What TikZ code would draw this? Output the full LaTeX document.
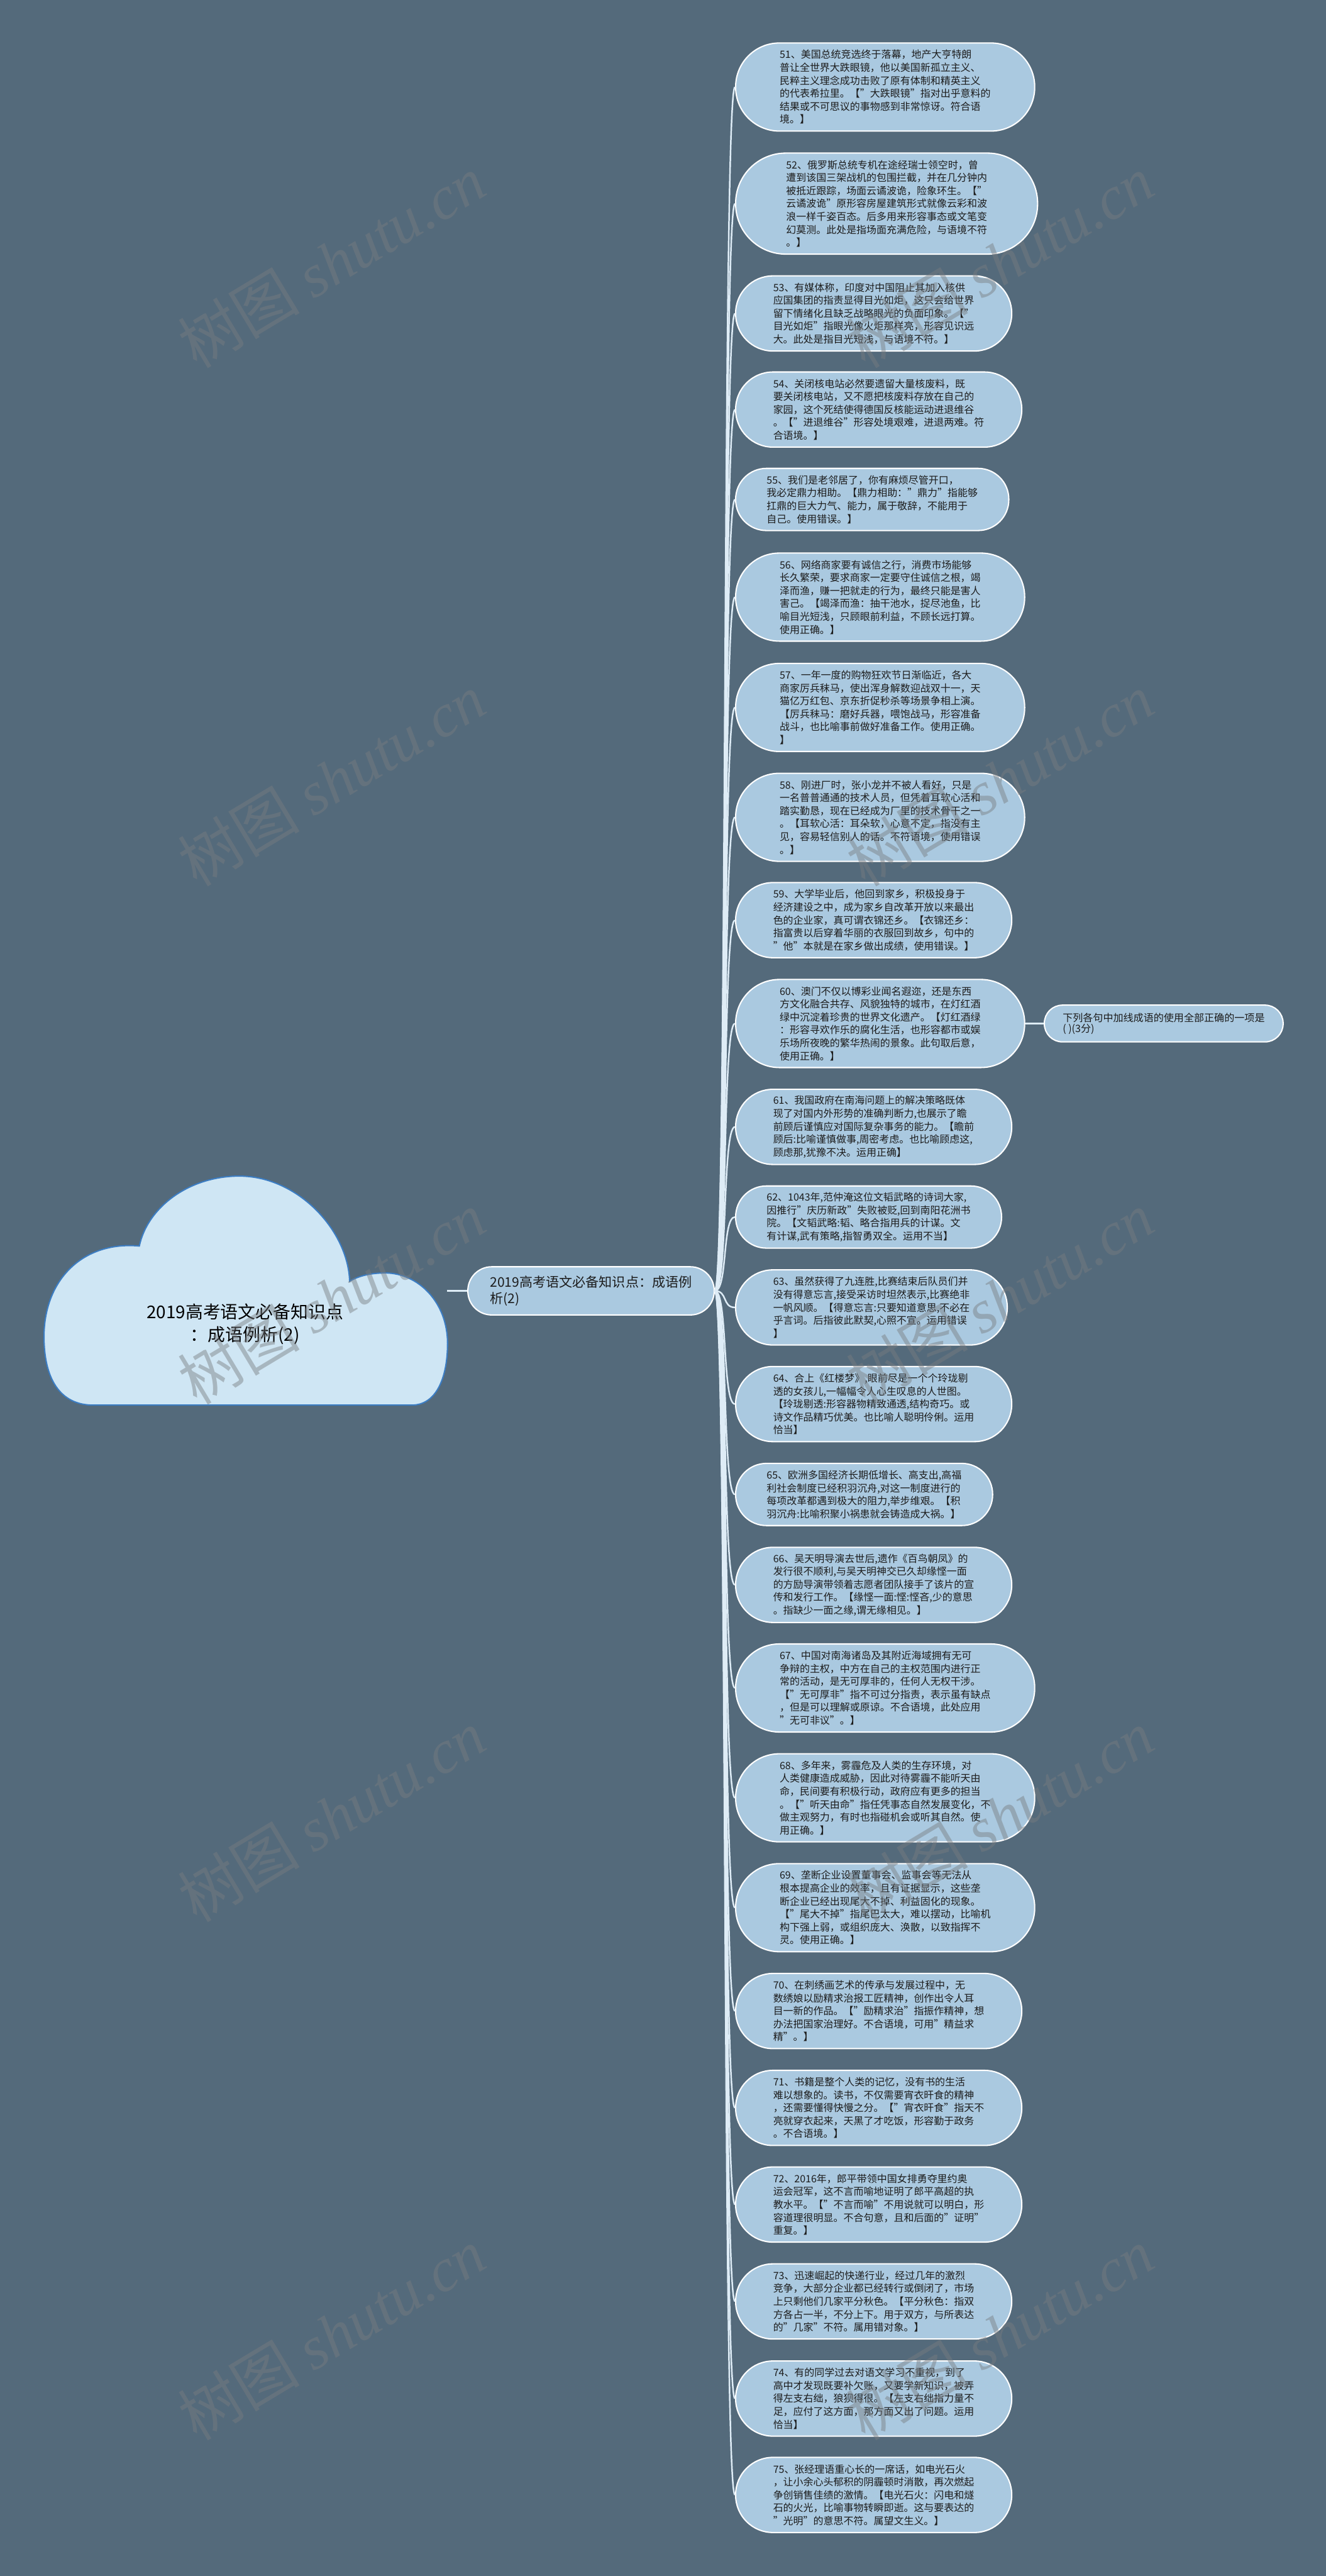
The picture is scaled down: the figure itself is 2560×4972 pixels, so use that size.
\documentclass[tikz,border=0pt]{standalone}
\usepackage{fontspec}
\setmainfont{Noto Sans CJK SC}
\newfontfamily\wmlatin{Liberation Serif}
\definecolor{bg}{RGB}{84,106,123}
\definecolor{leafc}{RGB}{170,201,224}
\definecolor{cloudc}{RGB}{207,230,244}
\definecolor{cloudline}{RGB}{60,125,195}
\definecolor{connc}{RGB}{222,236,246}
\definecolor{txt}{RGB}{28,28,28}
\definecolor{wmc}{RGB}{120,124,128}
\newcommand\leaffont{\fontsize{19.4pt}{25pt}\selectfont}
\newcommand\midfont{\fontsize{25.6pt}{32pt}\selectfont}
\newcommand\sidefont{\fontsize{19.5pt}{21pt}\selectfont}
\newcommand\rootfont{\fontsize{33.8pt}{44pt}\selectfont}
\newcommand\wmfont{\fontsize{118pt}{118pt}\selectfont}
\tikzset{
  pill/.style={rectangle, draw=white, line width=2.5pt, fill=leafc,
    text=txt, align=left, inner ysep=0pt, minimum height=#1,
    inner xsep=#1/2, rounded corners=#1/2-0.5pt, anchor=west},
  leafbox/.style={pill=#1, font=\leaffont},
  midbox/.style={pill=93pt, inner xsep=43pt, font=\midfont},
  sidebox/.style={pill=71pt, font=\sidefont},
  cloudshape/.style={fill=cloudc, draw=cloudline, line width=2.5pt},
  roottext/.style={text=black, align=center, font=\rootfont, inner sep=0pt},
  conn/.style={draw=connc, line width=3pt},
  wm/.style={text=wmc, text opacity=0.45, font=\wmfont, rotate=31, inner sep=0pt}
}
\begin{document}
\begin{tikzpicture}[x=1pt,y=-1pt]
\useasboundingbox (0,0) rectangle (2560,4972);
\fill[bg] (0,0) rectangle (2560,4972);

% cloud (root)
\draw[cloudshape] (180,2712) -- (795,2712)
  .. controls (842,2712) and (864,2660) .. (864,2593)
  .. controls (864,2512) and (806,2457) .. (744,2457)
  .. controls (712,2457) and (690,2464) .. (675,2473)
  .. controls (672,2375) and (575,2270) .. (462,2270)
  .. controls (365,2270) and (285,2330) .. (269,2405)
  .. controls (160,2395) and (85,2470) .. (85,2580)
  .. controls (85,2660) and (115,2712) .. (180,2712) -- cycle;
\node[roottext] (root) at (473,2556) {2019高考语文必备知识点\\：成语例析(2)};
\coordinate (cloudR) at (863,2491.5);

% middle node
\node[midbox] (mid) at (902,2491.5) {2019高考语文必备知识点：成语例\\析(2)};

% leaves
\node[leafbox=170pt] (l51) at (1419,168) {51、美国总统竞选终于落幕，地产大亨特朗\\
普让全世界大跌眼镜，他以美国新孤立主义、\\
民粹主义理念成功击败了原有体制和精英主义\\
的代表希拉里。【"大跌眼镜"指对出乎意料的\\
结果或不可思议的事物感到非常惊讶。符合语\\
境。】};
\node[leafbox=195pt] (l52) at (1419,393) {52、俄罗斯总统专机在途经瑞士领空时，曾\\
遭到该国三架战机的包围拦截，并在几分钟内\\
被抵近跟踪，场面云谲波诡，险象环生。【"\\
云谲波诡"原形容房屋建筑形式就像云彩和波\\
浪一样千姿百态。后多用来形容事态或文笔变\\
幻莫测。此处是指场面充满危险，与语境不符\\
。】};
\node[leafbox=145pt] (l53) at (1419,605) {53、有媒体称，印度对中国阻止其加入核供\\
应国集团的指责显得目光如炬，这只会给世界\\
留下情绪化且缺乏战略眼光的负面印象。【"\\
目光如炬"指眼光像火炬那样亮，形容见识远\\
大。此处是指目光短浅，与语境不符。】};
\node[leafbox=145pt] (l54) at (1419,790.5) {54、关闭核电站必然要遗留大量核废料，既\\
要关闭核电站，又不愿把核废料存放在自己的\\
家园，这个死结使得德国反核能运动进退维谷\\
。【"进退维谷"形容处境艰难，进退两难。符\\
合语境。】};
\node[leafbox=120pt] (l55) at (1419,964) {55、我们是老邻居了，你有麻烦尽管开口，\\
我必定鼎力相助。【鼎力相助："鼎力"指能够\\
扛鼎的巨大力气、能力，属于敬辞，不能用于\\
自己。使用错误。】};
\node[leafbox=170pt] (l56) at (1419,1152.5) {56、网络商家要有诚信之行，消费市场能够\\
长久繁荣，要求商家一定要守住诚信之根，竭\\
泽而渔，赚一把就走的行为，最终只能是害人\\
害己。【竭泽而渔：抽干池水，捉尽池鱼，比\\
喻目光短浅，只顾眼前利益，不顾长远打算。\\
使用正确。】};
\node[leafbox=170pt] (l57) at (1419,1365.5) {57、一年一度的购物狂欢节日渐临近，各大\\
商家厉兵秣马，使出浑身解数迎战双十一，天\\
猫亿万红包、京东折促秒杀等场景争相上演。\\
【厉兵秣马：磨好兵器，喂饱战马，形容准备\\
战斗，也比喻事前做好准备工作。使用正确。\\
】};
\node[leafbox=170pt] (l58) at (1419,1577.5) {58、刚进厂时，张小龙并不被人看好，只是\\
一名普普通通的技术人员，但凭着耳软心活和\\
踏实勤恳，现在已经成为厂里的技术骨干之一\\
。【耳软心活：耳朵软，心意不定，指没有主\\
见，容易轻信别人的话。不符语境，使用错误\\
。】};
\node[leafbox=145pt] (l59) at (1419,1776) {59、大学毕业后，他回到家乡，积极投身于\\
经济建设之中，成为家乡自改革开放以来最出\\
色的企业家，真可谓衣锦还乡。【衣锦还乡：\\
指富贵以后穿着华丽的衣服回到故乡，句中的\\
"他"本就是在家乡做出成绩，使用错误。】};
\node[leafbox=170pt] (l60) at (1419,1975.5) {60、澳门不仅以博彩业闻名遐迩，还是东西\\
方文化融合共存、风貌独特的城市，在灯红酒\\
绿中沉淀着珍贵的世界文化遗产。【灯红酒绿\\
：形容寻欢作乐的腐化生活，也形容都市或娱\\
乐场所夜晚的繁华热闹的景象。此句取后意，\\
使用正确。】};
\node[leafbox=145pt] (l61) at (1419,2175) {61、我国政府在南海问题上的解决策略既体\\
现了对国内外形势的准确判断力,也展示了瞻\\
前顾后谨慎应对国际复杂事务的能力。【瞻前\\
顾后:比喻谨慎做事,周密考虑。也比喻顾虑这,\\
顾虑那,犹豫不决。运用正确】};
\node[leafbox=120pt] (l62) at (1419,2349) {62、1043年,范仲淹这位文韬武略的诗词大家,\\
因推行"庆历新政"失败被贬,回到南阳花洲书\\
院。【文韬武略:韬、略合指用兵的计谋。文\\
有计谋,武有策略,指智勇双全。运用不当】};
\node[leafbox=145pt] (l63) at (1419,2523.5) {63、虽然获得了九连胜,比赛结束后队员们并\\
没有得意忘言,接受采访时坦然表示,比赛绝非\\
一帆风顺。【得意忘言:只要知道意思,不必在\\
乎言词。后指彼此默契,心照不宣。运用错误\\
】};
\node[leafbox=145pt] (l64) at (1419,2710) {64、合上《红楼梦》,眼前尽是一个个玲珑剔\\
透的女孩儿,一幅幅令人心生叹息的人世图。\\
【玲珑剔透:形容器物精致通透,结构奇巧。或\\
诗文作品精巧优美。也比喻人聪明伶俐。运用\\
恰当】};
\node[leafbox=120pt] (l65) at (1419,2884.5) {65、欧洲多国经济长期低增长、高支出,高福\\
利社会制度已经积羽沉舟,对这一制度进行的\\
每项改革都遇到极大的阻力,举步维艰。【积\\
羽沉舟:比喻积聚小祸患就会铸造成大祸。】};
\node[leafbox=145pt] (l66) at (1419,3059) {66、吴天明导演去世后,遗作《百鸟朝凤》的\\
发行很不顺利,与吴天明神交已久却缘悭一面\\
的方励导演带领着志愿者团队接手了该片的宣\\
传和发行工作。【缘悭一面:悭:悭吝,少的意思\\
。指缺少一面之缘,谓无缘相见。】};
\node[leafbox=170pt] (l67) at (1419,3258) {67、中国对南海诸岛及其附近海域拥有无可\\
争辩的主权，中方在自己的主权范围内进行正\\
常的活动，是无可厚非的，任何人无权干涉。\\
【"无可厚非"指不可过分指责，表示虽有缺点\\
，但是可以理解或原谅。不合语境，此处应用\\
"无可非议"。】};
\node[leafbox=170pt] (l68) at (1419,3470) {68、多年来，雾霾危及人类的生存环境，对\\
人类健康造成威胁，因此对待雾霾不能听天由\\
命，民间要有积极行动，政府应有更多的担当\\
。【"听天由命"指任凭事态自然发展变化，不\\
做主观努力，有时也指碰机会或听其自然。使\\
用正确。】};
\node[leafbox=170pt] (l69) at (1419,3682) {69、垄断企业设置董事会、监事会等无法从\\
根本提高企业的效率，且有证据显示，这些垄\\
断企业已经出现尾大不掉、利益固化的现象。\\
【"尾大不掉"指尾巴太大，难以摆动，比喻机\\
构下强上弱，或组织庞大、涣散，以致指挥不\\
灵。使用正确。】};
\node[leafbox=145pt] (l70) at (1419,3881.5) {70、在刺绣画艺术的传承与发展过程中，无\\
数绣娘以励精求治报工匠精神，创作出令人耳\\
目一新的作品。【"励精求治"指振作精神，想\\
办法把国家治理好。不合语境，可用"精益求\\
精"。】};
\node[leafbox=145pt] (l71) at (1419,4068.5) {71、书籍是整个人类的记忆，没有书的生活\\
难以想象的。读书，不仅需要宵衣旰食的精神\\
，还需要懂得快慢之分。【"宵衣旰食"指天不\\
亮就穿衣起来，天黑了才吃饭，形容勤于政务\\
。不合语境。】};
\node[leafbox=145pt] (l72) at (1419,4255) {72、2016年，郎平带领中国女排勇夺里约奥\\
运会冠军，这不言而喻地证明了郎平高超的执\\
教水平。【"不言而喻"不用说就可以明白，形\\
容道理很明显。不合句意，且和后面的"证明"\\
重复。】};
\node[leafbox=145pt] (l73) at (1419,4442) {73、迅速崛起的快递行业，经过几年的激烈\\
竞争，大部分企业都已经转行或倒闭了，市场\\
上只剩他们几家平分秋色。【平分秋色：指双\\
方各占一半，不分上下。用于双方，与所表达\\
的"几家"不符。属用错对象。】};
\node[leafbox=145pt] (l74) at (1419,4629.5) {74、有的同学过去对语文学习不重视，到了\\
高中才发现既要补欠账，又要学新知识，被弄\\
得左支右绌，狼狈得很。【左支右绌指力量不\\
足，应付了这方面，那方面又出了问题。运用\\
恰当】};
\node[leafbox=145pt] (l75) at (1419,4815.5) {75、张经理语重心长的一席话，如电光石火\\
，让小余心头郁积的阴霾顿时消散，再次燃起\\
争创销售佳绩的激情。【电光石火：闪电和燧\\
石的火光，比喻事物转瞬即逝。这与要表达的\\
"光明"的意思不符。属望文生义。】};

% side node
\node[sidebox] (side) at (2015,1975.5) {下列各句中加线成语的使用全部正确的一项是\\( )(3分)};

% connectors
\draw[conn] (cloudR) -- (mid.west);
\foreach \i in {51,...,75}
  \draw[conn] (mid.east) .. controls +(25,0) and +(-25,0) .. (l\i.west);
\draw[conn] (l60.east) -- (side.west);

% watermarks
\foreach \k in {0,...,4} {
  \node[wm] (wmL\k) at (640,505+1000*\k) {树图 {\wmlatin\itshape shutu.cn}};
  \node[wm] (wmR\k) at (1930,505+1000*\k) {树图 {\wmlatin\itshape shutu.cn}};
}
\end{tikzpicture}
\end{document}
